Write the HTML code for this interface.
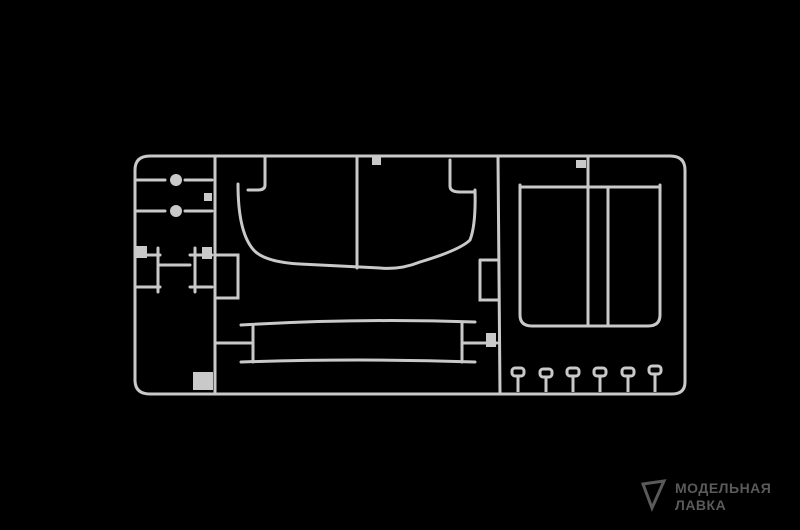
<!DOCTYPE html>
<html><head><meta charset="utf-8"><style>
html,body{margin:0;padding:0;background:#000;width:800px;height:530px;overflow:hidden}
.wm{position:absolute;left:675px;top:480px;font-family:"Liberation Sans",sans-serif;font-weight:bold;color:#5a5a5a;font-size:14px;line-height:17px;letter-spacing:0.5px}
</style></head><body>
<svg width="800" height="530" style="position:absolute;left:0;top:0">
<g fill="none" stroke="#c9c9c9" stroke-width="3" stroke-linecap="round">
<path d="M150 156 H670 Q685 156 685 170 V382 Q685 394 672 394 H150 Q135 394 135 380 V170 Q135 156 150 156 Z"/>
<path d="M215 157 V394"/>
<path d="M498 157 L500 394"/>
<path d="M265 157 V185 Q265 190 258 190 H248"/>
<path d="M238 184 Q238 230 252 248 Q262 262 300 264 L380 268 Q400 270 420 262 Q460 250 470 240 Q476 225 475 190"/>
<path d="M450 160 V186 Q450 192 460 192 H474"/>
<path d="M357 158 V268"/>
<path d="M241 325 Q360 318 475 322"/>
<path d="M241 362 Q360 358 475 362"/>
<path d="M253 325 V362 M462 322 V362 M217 343 H253 M462 343 H497"/>
<path d="M520 187 H658"/>
<path d="M520 185 V315 Q520 326 532 326 H648 Q660 326 660 315 V185"/>
<path d="M588 158 V325 M608 187 V325"/>
<path d="M137 180 H165 M185 180 H212 M137 211 H165 M185 211 H212"/>
<path d="M137 255 H160 M137 287 H160 M158 248 V292 M160 265 H190 M190 255 H212 M190 287 H212 M195 248 V292"/>
<path d="M217 255 H238 V298 H217"/>
<path d="M480 260 H498 M480 260 V300 H498"/>
</g>
<g fill="#c9c9c9">
<circle cx="176" cy="180" r="6"/><circle cx="176" cy="211" r="6"/>
<rect x="204" y="193" width="8" height="8"/><rect x="135" y="246" width="12" height="12"/><rect x="202" y="247" width="10" height="12"/>
<rect x="193" y="372" width="20" height="18"/><rect x="576" y="160" width="10" height="8"/>
<rect x="486" y="333" width="10" height="14"/><rect x="372" y="157" width="9" height="8"/>
</g>
<g fill="none" stroke="#c9c9c9" stroke-width="3">
<rect x="512" y="368" width="12" height="8" rx="3"/><line x1="518" y1="376" x2="518" y2="392"/>
<rect x="540" y="369" width="12" height="8" rx="3"/><line x1="546" y1="377" x2="546" y2="392"/>
<rect x="567" y="368" width="12" height="8" rx="3"/><line x1="573" y1="376" x2="573" y2="392"/>
<rect x="594" y="368" width="12" height="8" rx="3"/><line x1="600" y1="376" x2="600" y2="392"/>
<rect x="622" y="368" width="12" height="8" rx="3"/><line x1="628" y1="376" x2="628" y2="392"/>
<rect x="649" y="366" width="12" height="8" rx="3"/><line x1="655" y1="374" x2="655" y2="392"/>
</g>
<path d="M643 484 L664 481 L652 508 Z" fill="none" stroke="#5a5a5a" stroke-width="3"/>
</svg>
<div class="wm">МОДЕЛЬНАЯ<br>ЛАВКА</div>
</body></html>
